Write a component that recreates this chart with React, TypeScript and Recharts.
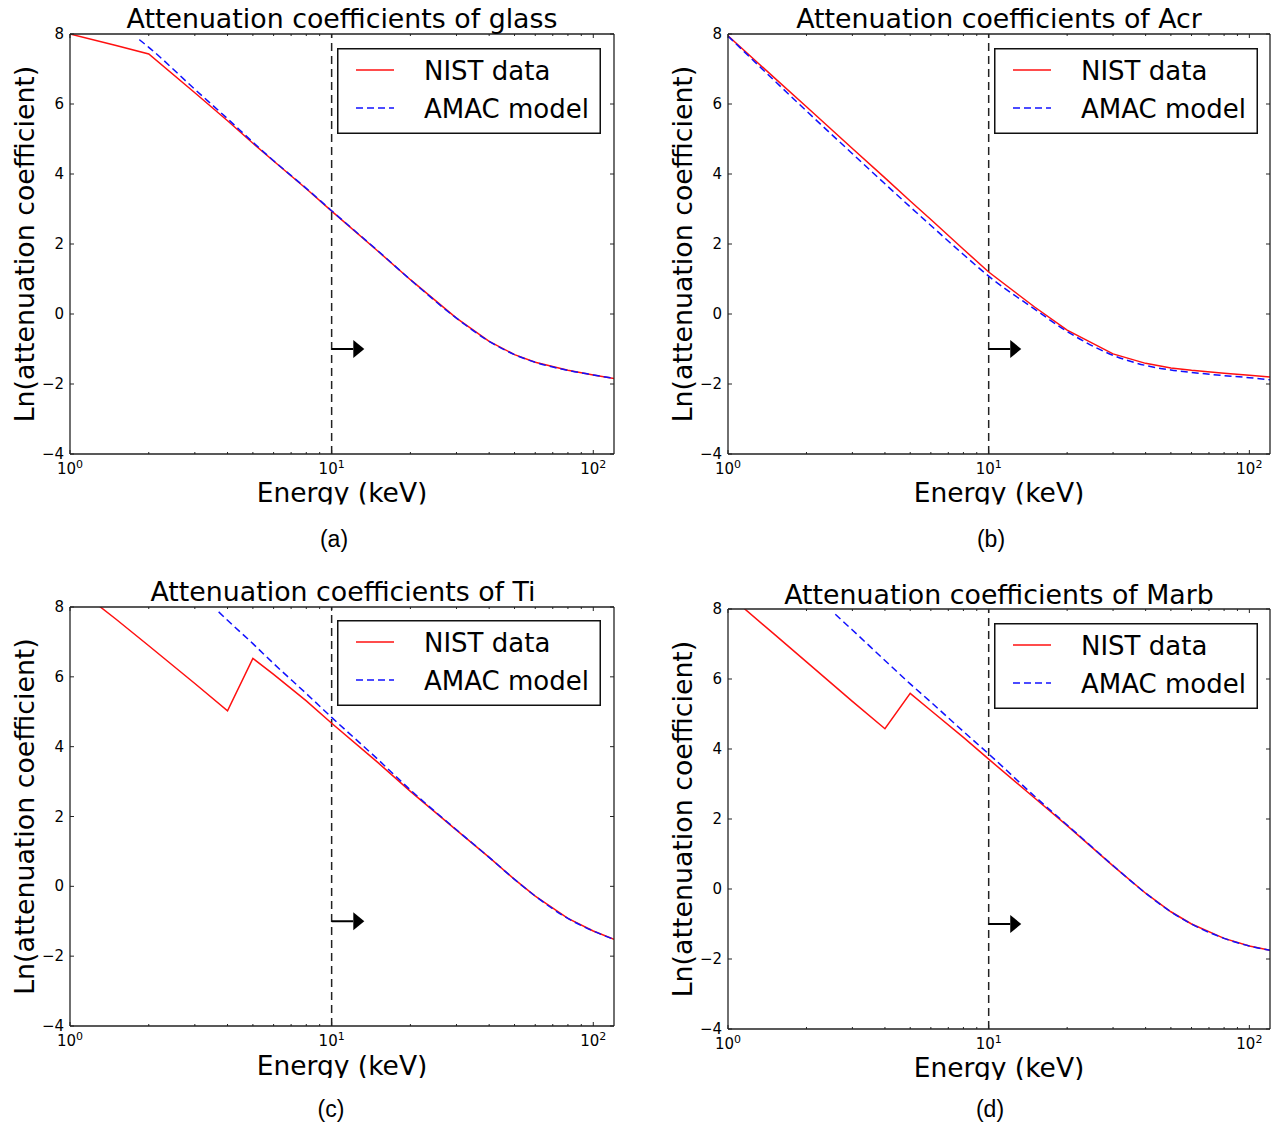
import React from 'react';
import { LineChart, Line, XAxis, YAxis, ReferenceLine, ReferenceDot, Legend } from 'recharts';

// ---------- shared axis values ----------
const xDomain: [number, number] = [1, 120];
const yDomain: [number, number] = [-4, 8];
const xTicks = [1, 2, 3, 4, 5, 6, 7, 8, 9, 10, 20, 30, 40, 50, 60, 70, 80, 90, 100];
const xMajorTicks = [1, 10, 100];
const yTicks = [-4, -2, 0, 2, 4, 6, 8];

const seriesNames = ['NIST data', 'AMAC model'];
const xLabel = 'Energy (keV)';
const yLabel = 'Ln(attenuation coefficient)';

// annotation (data units)
const cutoffEnergy = 10;
const arrowLevel = -1;
const arrowHeadEnergy = 12.1;

// ---------- data ----------
const stdEnergies = [1, 1.5, 2, 3, 4, 5, 6, 8, 10, 15, 20, 30, 40, 50, 60, 80, 100, 120];

// (a) glass
const glassNist = [8.0, 7.67, 7.43, 6.32, 5.52, 4.88, 4.37, 3.58, 2.94, 1.8, 0.98, -0.12, -0.78, -1.16, -1.38, -1.61, -1.74, -1.84];
const glassAmacEnergies = [1.84, 2, 3, 4, 5, 6, 8, 10, 15, 20, 30, 40, 50, 60, 80, 100, 120];
const glassAmac = [7.84, 7.62, 6.42, 5.58, 4.91, 4.38, 3.59, 2.95, 1.81, 0.98, -0.12, -0.78, -1.16, -1.38, -1.61, -1.74, -1.84];

// (b) Acr
const acrNist = [7.95, 6.76, 5.92, 4.73, 3.89, 3.23, 2.7, 1.85, 1.2, 0.2, -0.46, -1.14, -1.41, -1.54, -1.61, -1.69, -1.75, -1.8];
const acrAmacEnergies = stdEnergies;
const acrAmac = [7.94, 6.68, 5.8, 4.58, 3.72, 3.06, 2.53, 1.7, 1.08, 0.14, -0.5, -1.18, -1.47, -1.6, -1.67, -1.76, -1.82, -1.88];

// (c) Ti
const tiNist = [8.68, 7.65, 6.89, 5.81, 5.03, 6.53, 6.07, 5.31, 4.67, 3.55, 2.72, 1.61, 0.83, 0.2, -0.28, -0.92, -1.28, -1.52];
const tiAmacEnergies = [3.7, 4, 5, 6, 8, 10, 15, 20, 30, 40, 50, 60, 80, 100, 120];
const tiAmac = [7.86, 7.62, 6.95, 6.38, 5.52, 4.84, 3.64, 2.76, 1.62, 0.83, 0.2, -0.28, -0.92, -1.28, -1.52];

// (d) Marb
const marbNist = [8.41, 7.29, 6.49, 5.36, 4.58, 5.59, 5.1, 4.33, 3.71, 2.6, 1.81, 0.66, -0.12, -0.65, -1.0, -1.41, -1.63, -1.75];
const marbAmacEnergies = [2.58, 3, 4, 5, 6, 8, 10, 15, 20, 30, 40, 50, 60, 80, 100, 120];
const marbAmac = [7.85, 7.4, 6.53, 5.86, 5.34, 4.5, 3.86, 2.65, 1.83, 0.67, -0.12, -0.65, -1.0, -1.41, -1.63, -1.75];

const zip = (es: number[], vs: number[]) => es.map((e, i) => ({ e, v: vs[i] }));

// ---------- styles ----------
const FONT = '"DejaVu Sans", "Noto Sans", sans-serif';
const AXIS = '#222';
const RED = '#ff1010';
const BLUE = '#1010ff';
const BLUE_DASH = '7 4';

// plot boxes are given as outer margins; each axis takes 1px of it
const panels = [
  {
    key: 'a', title: 'Attenuation coefficients of glass', letter: '(a)',
    nist: zip(stdEnergies, glassNist), amac: zip(glassAmacEnergies, glassAmac),
    left: 0, top: 0, width: 640, height: 560,
    margin: { top: 34, right: 26, bottom: 106, left: 70 },
    legend: { left: 337, top: 48 },
    titleX: 342, titleY: 28, xLabelY: 502, xClipY: 504.5, yLabelX: 34, letterX: 334, letterY: 547,
  },
  {
    key: 'b', title: 'Attenuation coefficients of Acr', letter: '(b)',
    nist: zip(stdEnergies, acrNist), amac: zip(acrAmacEnergies, acrAmac),
    left: 640, top: 0, width: 633, height: 560,
    margin: { top: 34, right: 3, bottom: 106, left: 88 },
    legend: { left: 354, top: 48 },
    titleX: 999, titleY: 28, xLabelY: 502, xClipY: 504.5, yLabelX: 692, letterX: 991, letterY: 547,
  },
  {
    key: 'c', title: 'Attenuation coefficients of Ti', letter: '(c)',
    nist: zip(stdEnergies, tiNist), amac: zip(tiAmacEnergies, tiAmac),
    left: 0, top: 570, width: 640, height: 558,
    margin: { top: 37, right: 26, bottom: 102, left: 70 },
    legend: { left: 337, top: 50 },
    titleX: 343, titleY: 601, xLabelY: 1075, xClipY: 1078, yLabelX: 34, letterX: 331, letterY: 1117,
  },
  {
    key: 'd', title: 'Attenuation coefficients of Marb', letter: '(d)',
    nist: zip(stdEnergies, marbNist), amac: zip(marbAmacEnergies, marbAmac),
    left: 640, top: 570, width: 633, height: 558,
    margin: { top: 39, right: 3, bottom: 99, left: 88 },
    legend: { left: 354, top: 53 },
    titleX: 999, titleY: 604, xLabelY: 1077, xClipY: 1080, yLabelX: 692, letterX: 990, letterY: 1117,
  },
];

// ---------- tick renderers ----------
const sup = (v: number) => String(Math.round(Math.log10(v)));

const BottomTick = (props: any) => {
  const { x, y, payload } = props;
  const major = xMajorTicks.includes(payload.value);
  return (
    <g>
      <line x1={x} x2={x} y1={y} y2={y - (major ? 4 : 2)} stroke={AXIS} strokeWidth={1} />
      {major && (
        <text x={x} y={y + 20} textAnchor="middle" fontFamily={FONT} fontSize={15} fill="#000">
          10<tspan dy={-6} fontSize={11}>{sup(payload.value)}</tspan>
        </text>
      )}
    </g>
  );
};

const TopTick = (props: any) => {
  const { x, y, payload } = props;
  const major = xMajorTicks.includes(payload.value);
  return <line x1={x} x2={x} y1={y} y2={y + (major ? 4 : 2)} stroke={AXIS} strokeWidth={1} />;
};

const LeftTick = (props: any) => {
  const { x, y, payload } = props;
  const v = payload.value as number;
  const label = v < 0 ? '\u2212' + Math.abs(v) : String(v);
  return (
    <g>
      <line x1={x} x2={x + 4} y1={y} y2={y} stroke={AXIS} strokeWidth={1} />
      <text x={x - 6} y={y + 5} textAnchor="end" fontFamily={FONT} fontSize={15} fill="#000">{label}</text>
    </g>
  );
};

const RightTick = (props: any) => {
  const { x, y } = props;
  return <line x1={x} x2={x - 4} y1={y} y2={y} stroke={AXIS} strokeWidth={1} />;
};

const ArrowHead = (props: any) => {
  const { cx, cy } = props;
  return <polygon points={`${cx},${cy - 9} ${cx},${cy + 9} ${cx + 11},${cy}`} fill="#000" />;
};

const LegendBox = () => (
  <svg width={264} height={86} style={{ display: 'block' }}>
    <rect x={0.75} y={0.75} width={262.5} height={84.5} fill="#fff" stroke="#111" strokeWidth={1.5} />
    <line x1={19} x2={57} y1={22} y2={22} stroke={RED} strokeWidth={1.5} />
    <text x={87} y={31.5} fontFamily={FONT} fontSize={26} fill="#000">{seriesNames[0]}</text>
    <line x1={19} x2={57} y1={60} y2={60} stroke={BLUE} strokeWidth={1.5} strokeDasharray={BLUE_DASH} />
    <text x={87} y={69.5} fontFamily={FONT} fontSize={26} fill="#000">{seriesNames[1]}</text>
  </svg>
);

const axisLine = { stroke: AXIS, strokeWidth: 1.3 };

const Panel = ({ p }: { p: (typeof panels)[number] }) => {
  const m = { top: p.margin.top - 1, right: p.margin.right - 1, bottom: p.margin.bottom - 1, left: p.margin.left - 1 };
  return (
    <div style={{ position: 'absolute', left: p.left, top: p.top, width: p.width, height: p.height }}>
      <LineChart width={p.width} height={p.height} margin={m}>
        <XAxis xAxisId="b" dataKey="e" type="number" scale="log" domain={xDomain} ticks={xTicks} allowDataOverflow
          interval={0} height={1} tickSize={0} tickMargin={0} tickLine={false} axisLine={axisLine} tick={BottomTick} />
        <XAxis xAxisId="t" orientation="top" dataKey="e" type="number" scale="log" domain={xDomain} ticks={xTicks} allowDataOverflow
          interval={0} height={1} tickSize={0} tickMargin={0} tickLine={false} axisLine={axisLine} tick={TopTick} />
        <YAxis yAxisId="l" type="number" domain={yDomain} ticks={yTicks} allowDataOverflow interval={0}
          width={1} tickSize={0} tickMargin={0} tickLine={false} axisLine={axisLine} tick={LeftTick} />
        <YAxis yAxisId="r" orientation="right" type="number" domain={yDomain} ticks={yTicks} allowDataOverflow interval={0}
          width={1} tickSize={0} tickMargin={0} tickLine={false} axisLine={axisLine} tick={RightTick} />
        <ReferenceLine xAxisId="b" yAxisId="l" x={cutoffEnergy} stroke="#222" strokeWidth={1.5} strokeDasharray="8 5" />
        <ReferenceLine xAxisId="b" yAxisId="l" segment={[{ x: cutoffEnergy, y: arrowLevel }, { x: arrowHeadEnergy, y: arrowLevel }]}
          stroke="#000" strokeWidth={2} />
        <ReferenceDot xAxisId="b" yAxisId="l" x={arrowHeadEnergy} y={arrowLevel} r={9} shape={ArrowHead} />
        <Line xAxisId="b" yAxisId="l" data={p.nist} dataKey="v" name={seriesNames[0]} type="linear" stroke={RED}
          strokeWidth={1.5} dot={false} activeDot={false} isAnimationActive={false} />
        <Line xAxisId="b" yAxisId="l" data={p.amac} dataKey="v" name={seriesNames[1]} type="monotone" stroke={BLUE}
          strokeWidth={1.5} strokeDasharray={BLUE_DASH} dot={false} activeDot={false} isAnimationActive={false} />
        <Legend layout="vertical" align="center" verticalAlign="middle" content={LegendBox}
          wrapperStyle={{ left: p.legend.left, top: p.legend.top, width: 264, height: 86 }} />
      </LineChart>
    </div>
  );
};

export default function App() {
  return (
    <div style={{ position: 'absolute', left: 0, top: 0, width: 1273, height: 1128, background: '#fff', overflow: 'hidden' }}>
      {panels.map((p) => <Panel key={p.key} p={p} />)}
      <svg width={1273} height={1128} style={{ position: 'absolute', left: 0, top: 0, pointerEvents: 'none' }}>
        <defs>
          {panels.map((p) => (
            <clipPath id={`xl-${p.key}`} key={p.key}>
              <rect x={0} y={p.xClipY - 40} width={1273} height={40} />
            </clipPath>
          ))}
        </defs>
        {panels.map((p) => {
          const cx = p.left + p.margin.left + (p.width - p.margin.left - p.margin.right) / 2;
          const cy = p.top + p.margin.top + (p.height - p.margin.top - p.margin.bottom) / 2;
          return (
            <g key={p.key} fontFamily={FONT} fill="#000">
              <text x={p.titleX} y={p.titleY} textAnchor="middle" fontSize={26.8}>{p.title}</text>
              <text x={cx} y={p.xLabelY} textAnchor="middle" fontSize={26.5} clipPath={`url(#xl-${p.key})`}>{xLabel}</text>
              <text x={p.yLabelX} y={cy} textAnchor="middle" fontSize={26.8} transform={`rotate(-90 ${p.yLabelX} ${cy})`}>{yLabel}</text>
              <text x={p.letterX} y={p.letterY} textAnchor="middle" fontSize={23} fontFamily='"Liberation Sans", Arial, sans-serif'>{p.letter}</text>
            </g>
          );
        })}
      </svg>
    </div>
  );
}
